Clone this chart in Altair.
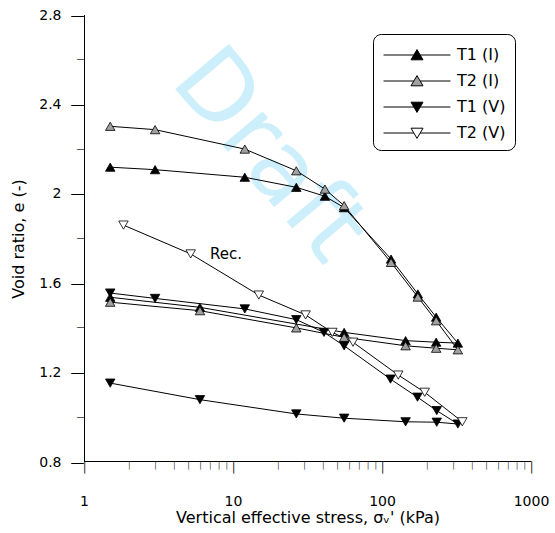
import altair as alt
import pandas as pd

series_names = ["T1 (I)", "T2 (I)", "T1 (V)", "T2 (V)"]

t1i_stress = [1.5, 3, 12, 26.6, 41.4, 55.7, 115, 174, 231, 323, 231, 144, 55.7, 6, 1.5]
t1i_e = [2.119, 2.108, 2.074, 2.029, 1.989, 1.938, 1.708, 1.552, 1.448, 1.332, 1.336, 1.343, 1.380, 1.492, 1.537]

t2i_stress = [1.5, 3, 12, 26.6, 41.4, 55.7, 115, 174, 231, 323, 231, 144, 55.7, 26.6, 6, 1.5]
t2i_e = [2.302, 2.287, 2.200, 2.103, 2.021, 1.947, 1.693, 1.538, 1.432, 1.302, 1.309, 1.320, 1.358, 1.400, 1.477, 1.515]

t1v_stress = [1.5, 3, 12, 26.6, 40.8, 55.7, 114, 173, 233, 323, 233, 144, 55.7, 26.6, 6, 1.5]
t1v_e = [1.556, 1.532, 1.485, 1.437, 1.380, 1.320, 1.171, 1.090, 1.030, 0.970, 0.978, 0.980, 0.996, 1.015, 1.079, 1.153]

t2v_stress = [1.84, 5.2, 14.9, 30.7, 46.4, 63.9, 128.6, 193.5, 346]
t2v_e = [1.860, 1.731, 1.547, 1.458, 1.380, 1.336, 1.189, 1.112, 0.980]

series_fill = ["black", "#a0a0a0", "black", "white"]
series_stroke = ["black", "black", "black", "black"]
series_shape = ["triangle-up", "triangle-up", "triangle-down", "triangle-down"]
UP = "M-1.08,0H3.97M5.03,0H10.08M4.5,-0.9L5.5,0.8L3.5,0.8Z"
DOWN = "M-1.08,0H3.97M5.03,0H10.08M4.5,0.9L5.5,-0.8L3.5,-0.8Z"
legend_paths = [UP, UP, DOWN, DOWN]

x_domain = [1, 1000]
y_domain = [0.8, 2.8]
x_minor_ticks = [m * 10 ** d for d in range(3) for m in range(2, 10)]
x_major_ticks = [1, 10, 100, 1000]
y_minor_ticks = [1.0, 1.4, 1.8, 2.2, 2.6]
y_major_ticks = [0.8, 1.2, 1.6, 2.0, 2.4, 2.8]

note_text = ["Rec."]
note_x = [7.0]
note_y = [1.731]

wm_text = ["Draft"]
wm_x = [17.5]
wm_y = [2.17]

W = H = 447
rows = []
for name, st, ev in zip(series_names, [t1i_stress, t2i_stress, t1v_stress, t2v_stress],
                        [t1i_e, t2i_e, t1v_e, t2v_e]):
    for i, (s, e) in enumerate(zip(st, ev)):
        rows.append({"series": name, "stress": s, "e": e, "order": i})
df = pd.DataFrame(rows)

# axis lines as 1-px bands just inside the plot edges
y_per_px = (y_domain[1] - y_domain[0]) / H
dec_per_px = 3.0 / W
axis_rects = pd.DataFrame({
    "x1": [x_domain[0], x_domain[0]],
    "x2": [x_domain[1], 10 ** dec_per_px],
    "y1": [y_domain[0], y_domain[0]],
    "y2": [y_domain[0] + y_per_px, y_domain[1]],
})

FONT = "DejaVu Sans"
x_scale = alt.Scale(type="log", domain=x_domain, nice=False)
y_scale = alt.Scale(domain=y_domain, nice=False, zero=False)

common = dict(grid=False, domain=False, ticks=False, labelColor="black",
              labelFont=FONT, labelFlush=False, labelOverlap=False, labelBound=False)

# numbered axes with titles
x_axis = alt.Axis(orient="bottom", values=x_major_ticks,
                  title="Vertical effective stress, σᵥ' (kPa)", format="d",
                  labelFontSize=14, titleFont=FONT, titleFontSize=16,
                  titleFontWeight="normal", titleColor="black",
                  labelPadding=32, titlePadding=1, **common)
y_axis = alt.Axis(orient="left", values=y_major_ticks, title="Void ratio, e (-)",
                  labelExpr="format(datum.value, '~g')", labelFontSize=14,
                  titleFont=FONT, titleFontSize=16, titleFontWeight="normal",
                  titleColor="black", labelPadding=23, titlePadding=12, **common)

# tick marks (outward) drawn as line glyphs
def x_tick_axis(vals, length):
    return alt.Axis(orient="bottom", values=vals, title=None, labelExpr="'│'",
                    labelFontSize=length / 1.026, labelBaseline="top", labelAlign="center",
                    labelPadding=0, **common)

def y_tick_axis(vals, length):
    return alt.Axis(orient="left", values=vals, title=None, labelExpr="'—'",
                    labelFontSize=length, labelBaseline="middle", labelAlign="right",
                    labelPadding=0, **common)

X = lambda f: alt.X(f, scale=x_scale, axis=None)
Y = lambda f: alt.Y(f, scale=y_scale, axis=None)

axis_layer = alt.Chart(axis_rects).mark_rect(color="black", opacity=1).encode(
    x=alt.X("x1:Q", scale=x_scale, axis=x_tick_axis(x_major_ticks, 11)),
    x2="x2:Q",
    y=alt.Y("y1:Q", scale=y_scale, axis=y_tick_axis(y_major_ticks, 14)),
    y2="y2:Q",
)

base = alt.Chart(df)

wm = alt.Chart(pd.DataFrame({"t": wm_text, "x": wm_x, "y": wm_y})).mark_text(
    angle=50, fontSize=96, font=FONT, color="#cdeffc", align="center", baseline="middle"
).encode(x=X("x:Q"), y=Y("y:Q"), text="t:N")

lines = base.mark_line(color="black", strokeWidth=1).encode(
    x=alt.X("stress:Q", scale=x_scale, axis=x_tick_axis(x_minor_ticks, 7)),
    y=alt.Y("e:Q", scale=y_scale, axis=y_tick_axis(y_minor_ticks, 8)),
    detail="series:N", order="order:Q")

points = base.mark_point(filled=True, size=90, stroke="black", strokeWidth=0.8, opacity=1).encode(
    x=alt.X("stress:Q", scale=x_scale, axis=x_axis),
    y=alt.Y("e:Q", scale=y_scale, axis=y_axis),
    shape=alt.Shape("series:N", scale=alt.Scale(domain=series_names, range=series_shape), legend=None),
    fill=alt.Fill("series:N", scale=alt.Scale(domain=series_names, range=series_fill), legend=None),
)

leg = alt.Legend(
    title=" ", titleFontSize=4, titlePadding=0, orient="none", legendX=289, legendY=19,
    strokeColor="black", cornerRadius=8, padding=9, symbolSize=144, symbolStrokeWidth=1,
    labelFontSize=16, labelFont=FONT, labelColor="black", labelOffset=59, rowPadding=10,
)
legend_layer = base.transform_filter("false").mark_point(
    filled=True, strokeWidth=1, opacity=1
).encode(
    shape=alt.Shape("series:N", scale=alt.Scale(domain=series_names, range=legend_paths), legend=leg),
    fill=alt.Fill("series:N", scale=alt.Scale(domain=series_names, range=series_fill), legend=leg),
    stroke=alt.Stroke("series:N", scale=alt.Scale(domain=series_names, range=series_stroke), legend=leg),
)

note = alt.Chart(pd.DataFrame({"t": note_text, "x": note_x, "y": note_y})).mark_text(
    align="left", baseline="middle", fontSize=15, font=FONT, color="black"
).encode(x=X("x:Q"), y=Y("y:Q"), text="t:N")

chart = alt.layer(
    wm, axis_layer, lines, points, note, legend_layer,
).resolve_scale(
    shape="independent", fill="independent", stroke="independent"
).resolve_axis(x="independent", y="independent").properties(
    width=W, height=H, padding={"left": 10, "top": 8, "right": 5, "bottom": 5}
).configure_view(stroke=None)

chart.save("out.html", embed_options={"renderer": "svg", "actions": False})
